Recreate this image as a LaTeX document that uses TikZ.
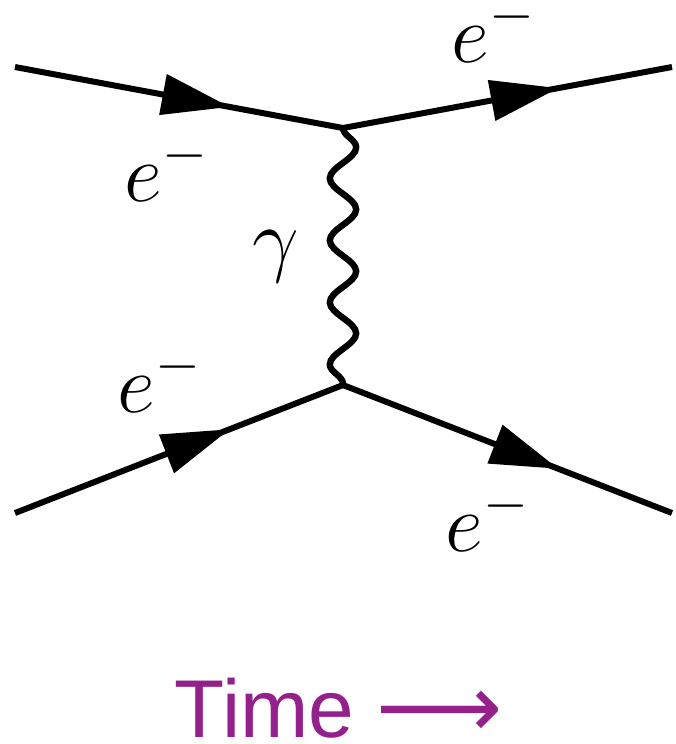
\documentclass[tikz,border=0pt]{standalone}
\usepackage{fontspec}
\usepackage{tikz}
\usetikzlibrary{arrows.meta, decorations.markings, decorations.pathmorphing}

\newfontfamily\timefont{Liberation Sans}
\newfontfamily\arrowfont{DejaVu Sans}
\definecolor{timepurple}{RGB}{148,32,140}

\begin{document}
\begin{tikzpicture}[
    x=0.25pt, y=-0.25pt,
    line width=1.5pt,
    fermion/.style={
      draw=black,
      postaction={decorate},
      decoration={
        markings,
        mark=at position 0.655 with {\arrow{Triangle[length=17pt,width=10pt]}}
      }
    },
    photon/.style={
      draw=black,
      line width=1.6pt,
      decorate,
      decoration={snake, segment length=15.5pt, amplitude=3.3pt}
    },
    lbl/.style={
      inner sep=0pt,
      anchor=base,
      font=\fontsize{20}{24}\selectfont
    },
    timelbl/.style={
      inner sep=0pt,
      anchor=base west,
      text=timepurple,
      font=\fontsize{20.5}{24}\selectfont\timefont
    }
  ]
    \useasboundingbox (0,0) rectangle (676,744);

    % Vertices and external legs
    \coordinate (vtop) at (343,128);
    \coordinate (vbot) at (343,385);
    \coordinate (intop) at (15,67);
    \coordinate (outtop) at (672,67);
    \coordinate (inbot) at (15,513);
    \coordinate (outbot) at (672,513);

    % Electron lines
    \draw[fermion] (intop) -- (vtop);
    \draw[fermion] (vtop) -- (outtop);
    \draw[fermion] (inbot) -- (vbot);
    \draw[fermion] (vbot) -- (outbot);

    % Photon exchange
    \draw[photon] (vtop) -- (vbot);

    % Labels
    \node[lbl] (eintop) at (167,201) {$e^-$};
    \node[lbl] (eouttop) at (494,62) {$e^-$};
    \node[lbl] (einbot) at (160,412) {$e^-$};
    \node[lbl] (eoutbot) at (488,551) {$e^-$};
    \node[lbl] (gamma) at (276,266) {$\gamma$};

    % Time axis
    \node[timelbl] (time) at (172,737) {Time {\arrowfont\fontsize{22}{24}\selectfont ⟶}};

  \end{tikzpicture}
\end{document}
